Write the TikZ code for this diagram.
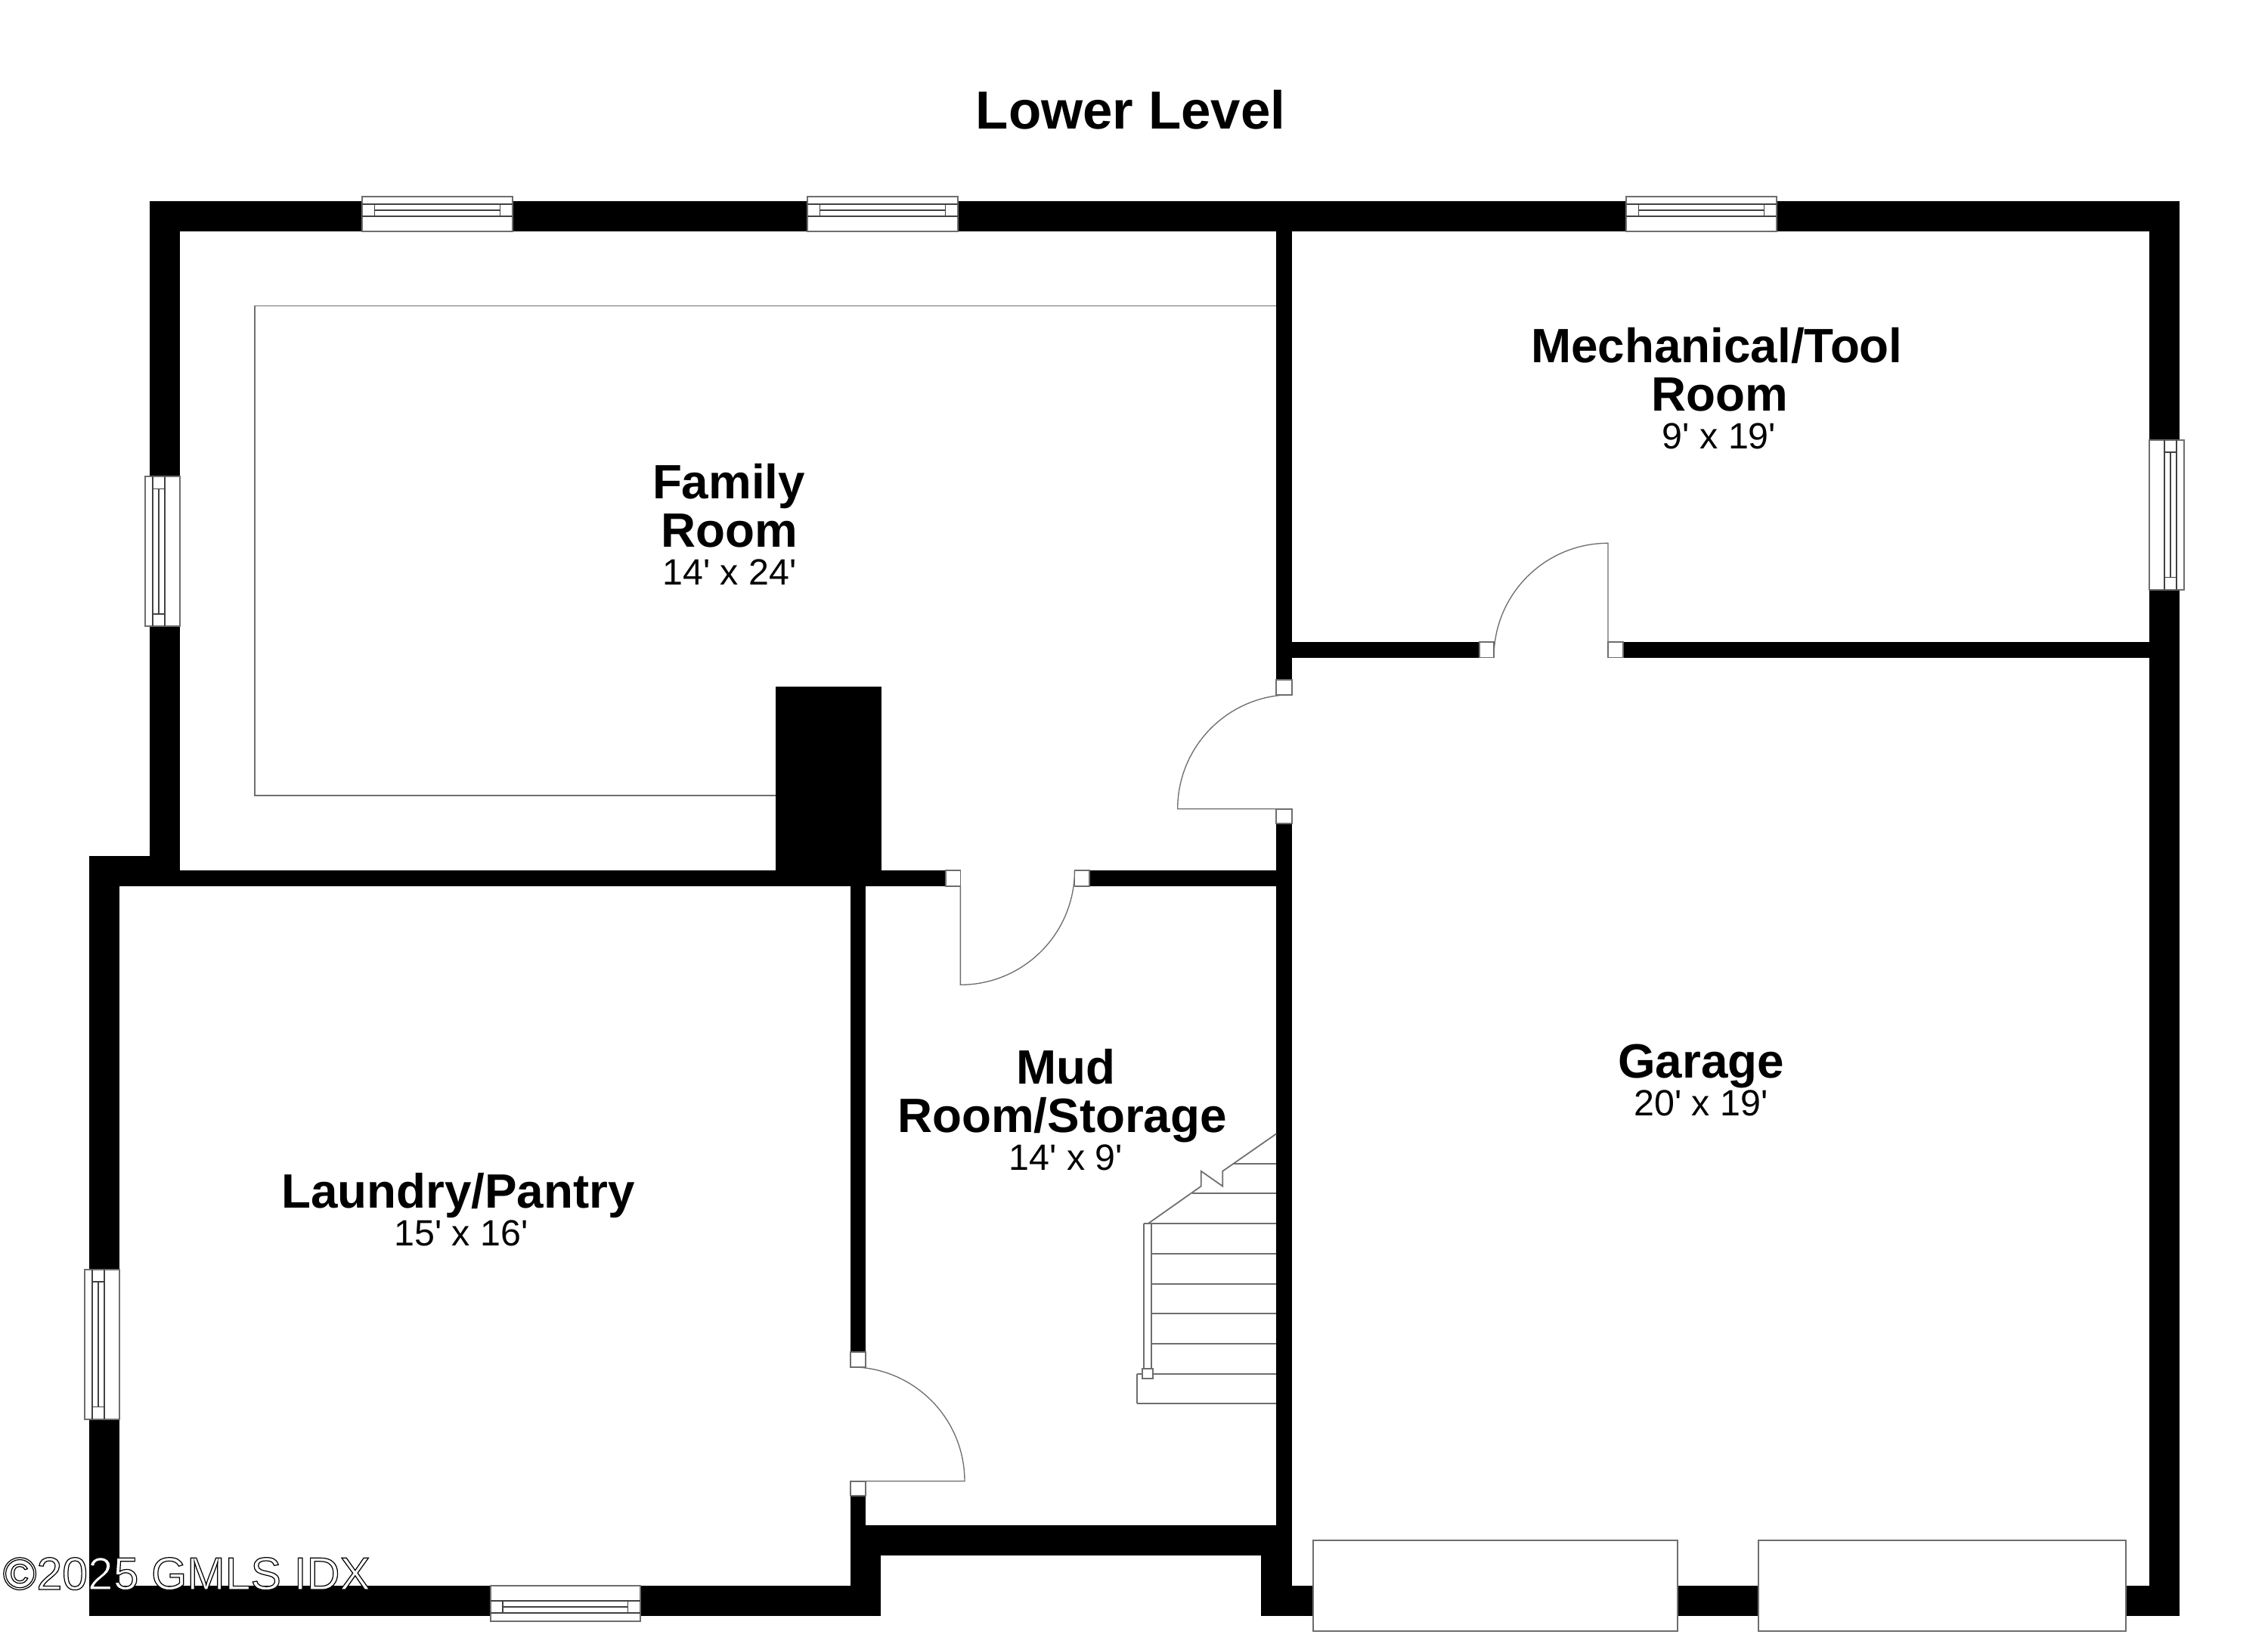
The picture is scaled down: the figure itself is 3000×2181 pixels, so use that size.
\documentclass[tikz,border=0pt]{standalone}
\usepackage{fontspec}
\setmainfont{Liberation Sans}
\newfontfamily\dimfont{Liberation Sans}
\font\wmfont="Liberation Sans:embolden=2" at 14.55pt
\definecolor{ln}{HTML}{6E6E6E}
\newcommand{\rr}[4]{\fill[wall] (#1,#2) rectangle (#3,#4);}
\newcommand{\jamb}[4]{\draw[jambbox] (#1,#2) rectangle (#3,#4);}
\newcommand{\hwin}[7]{% x0 x1 ytop y1 y2 y3 ybot
  \draw[winbox] (#1,#3) rectangle (#2,#7);
  \draw[winline] (#1,#4) -- (#2,#4);
  \draw[winline] (#1,#6) -- (#2,#6);
  \draw[winline] ({#1+16.5},#5) -- ({#2-16.5},#5);
  \draw[winline] ({#1+16.5},#4) -- ({#1+16.5},#6);
  \draw[winline] ({#2-16.5},#4) -- ({#2-16.5},#6);}
\newcommand{\vwin}[7]{% y0 y1 xleft x1 x2 x3 xright
  \draw[winbox] (#3,#1) rectangle (#7,#2);
  \draw[winline] (#4,#1) -- (#4,#2);
  \draw[winline] (#6,#1) -- (#6,#2);
  \draw[winline] (#5,{#1+16.5}) -- (#5,{#2-16.5});
  \draw[winline] (#4,{#1+16.5}) -- (#6,{#1+16.5});
  \draw[winline] (#4,{#2-16.5}) -- (#6,{#2-16.5});}
\tikzset{
  wall/.style={fill=black},
  jambbox/.style={draw=ln,fill=white,line width=0.4pt},
  winbox/.style={draw=ln,fill=white,line width=0.45pt},
  winline/.style={draw=ln!60!black,line width=0.4pt},
  thin line/.style={draw=ln,line width=0.32pt},
  stairline/.style={draw=ln,line width=0.42pt},
  rname/.style={anchor=base,inner sep=0pt,font=\fontsize{15.3}{15.3}\selectfont\bfseries},
  rdim/.style={anchor=base,inner sep=0pt,font=\dimfont\fontsize{11.6}{11.6}\selectfont},
  title/.style={anchor=base,inner sep=0pt,font=\fontsize{17}{17}\selectfont\bfseries}
}
\begin{document}
\begin{tikzpicture}[x=0.24pt,y=-0.24pt]
\useasboundingbox[fill=white] (0,0) rectangle (3000,2181);
% family room inset
\draw[thin line] (1690,404.7) -- (337,404.7) -- (337,1052) -- (1025.5,1052);
% walls
\rr{198}{266}{2883}{306}
\rr{198}{266}{238}{1172}
\rr{118}{1132}{238}{1172}
\rr{118}{1132}{158}{2137}
\rr{238}{1151.3}{1251}{1171.7}
\rr{1441}{1151.3}{1689}{1171.7}
\rr{1025.5}{908}{1166.3}{1172}
\rr{1124.7}{1172}{1145}{1788.3}
\rr{1124.7}{1978.3}{1145}{2137}
\rr{1124.7}{2016.7}{1708.7}{2057}
\rr{1124.7}{2016.7}{1165.4}{2137}
\rr{118}{2097}{1165.4}{2137.3}
\rr{1688.3}{306}{1708.7}{899.3}
\rr{1688.3}{1089.3}{1708.7}{2137}
\rr{1668.3}{2057}{1708.7}{2137.3}
\rr{1668.3}{2097}{2883}{2137.3}
\rr{1708.7}{849.3}{1956.7}{869.5}
\rr{2147}{849.3}{2843}{869.5}
\rr{2842.8}{266}{2883}{2137.3}
% door jambs
\jamb{1251}{1151.3}{1270.4}{1171.7}
\jamb{1421.4}{1151.3}{1440.8}{1171.7}
\jamb{1688.3}{899.3}{1708.7}{919.3}
\jamb{1688.3}{1069.7}{1708.7}{1089.3}
\jamb{1956.7}{849.3}{1976.3}{869.5}
\jamb{2127}{849.3}{2147}{869.5}
\jamb{1124.7}{1788.3}{1145}{1808}
\jamb{1124.7}{1958.7}{1145}{1978.3}
% door leaves
\draw[thin line] (1270.4,1171.7) -- (1270.4,1302.3) .. controls (1353.8,1302.3) and (1421.4,1234.7) .. (1421.4,1151.3);
\draw[thin line] (1708.7,1069.7) -- (1557.7,1069.7) .. controls (1557.7,986.3) and (1625.3,918.7) .. (1708.7,918.7);
\draw[thin line] (2127,849.3) -- (2127,718.3) .. controls (2043.6,718.3) and (1976,785.9) .. (1976,869.3);
\draw[thin line] (1145,1958.7) -- (1276,1958.7) .. controls (1276,1875.3) and (1208.4,1807.7) .. (1125,1807.7);
% windows
\hwin{479}{678}{259.7}{270.3}{278.3}{286}{306}
\hwin{1068}{1267}{259.7}{270.3}{278.3}{286}{306}
\hwin{2151}{2350}{259.7}{270.3}{278.3}{286}{306}
\hwin{648.7}{847}{2097}{2117}{2125}{2133}{2143.7}
\vwin{630}{828.3}{192}{202.3}{210.3}{218.3}{238}
\vwin{581.7}{780}{2842.7}{2862.7}{2870.7}{2878.7}{2889.3}
\vwin{1678.7}{1877}{111.7}{122.3}{130.3}{138.3}{158}
% garage doors
\draw[draw=ln,fill=white,line width=0.45pt] (1737,2037.3) rectangle (2219.4,2157.3);
\draw[draw=ln,fill=white,line width=0.45pt] (2326,2037.3) rectangle (2811.8,2157.3);
% stairs
\foreach \yy/\xx in {1538.7/1631.7,1578.3/1576.7,1618.3/1513,1658/1523,1697.7/1523,1737/1523,1777/1523,1816.7/1504.3,1856/1504.3}
  \draw[stairline] (\xx,\yy) -- (1688.3,\yy);
\draw[stairline] (1504.3,1856) -- (1504.3,1816.7);
\draw[stairline] (1688.3,1499.3) -- (1617.3,1548.7) -- (1617.3,1568.7) -- (1588.7,1548.7) -- (1588.7,1568.7) -- (1518.3,1618.3);
\draw[stairline] (1513,1810) -- (1513,1618.3);
\draw[stairline] (1523,1810) -- (1523,1618.3);
\draw[stairline,fill=white] (1511.3,1809.7) rectangle (1525,1823.3);
% texts
\node[title] (t0) at (1495.5,170) {Lower Level};
\node[rname] (mech1) at (2271,479) {Mechanical/Tool};
\node[rname] (mech2) at (2275,543.3) {Room};
\node[rdim]  (mech3) at (2274,593.3) {9' x 19'};
\node[rname] (fam1) at (964,659) {Family};
\node[rname] (fam2) at (965,723) {Room};
\node[rdim]  (fam3) at (965,773) {14' x 24'};
\node[rname] (gar1) at (2250,1425) {Garage};
\node[rdim]  (gar2) at (2250,1475) {20' x 19'};
\node[rname] (mud1) at (1410,1433.7) {Mud};
\node[rname] (mud2) at (1405,1497.7) {Room/Storage};
\node[rdim]  (mud3) at (1410,1547.7) {14' x 9'};
\node[rname] (lau1) at (606,1597) {Laundry/Pantry};
\node[rdim]  (lau2) at (610,1647) {15' x 16'};
\node[anchor=base west,inner sep=0pt,text=white] (wm) at (3,2102) {\wmfont\special{pdf:code 0 0 0 RG}©2025 GMLS IDX};
\end{tikzpicture}
\end{document}
